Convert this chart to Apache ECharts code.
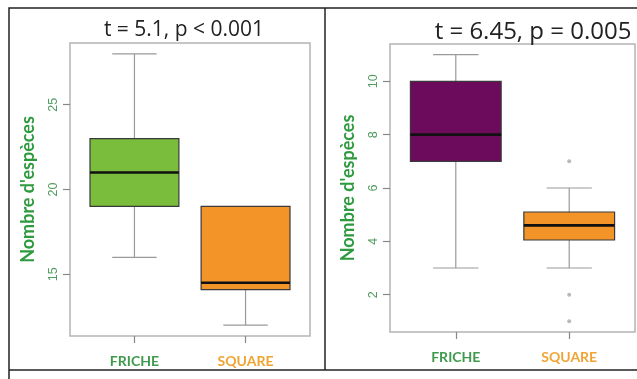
<!DOCTYPE html>
<html>
<head>
<meta charset="utf-8">
<script src="https://cdn.jsdelivr.net/npm/echarts@6/dist/echarts.min.js"></script>
<style>
html,body{margin:0;padding:0;background:#fff;}
#chart{width:637px;height:379px;}
</style>
</head>
<body>
<div id="chart"></div>
<script>
// ---- data ----
const categories = ['FRICHE', 'SQUARE'];
const categoryColors = ['#3f9a4c', '#f0a434'];
// [min, q1, median, q3, max]
const leftFriche = [16, 19, 21, 23, 28];
const leftSquare = [12, 14.1, 14.5, 19, 19];
const rightFriche = [3, 7, 8, 10, 11];
const rightSquare = [3, 4.05, 4.6, 5.1, 6];
const rightSquareOutliers = [7, 2, 1];
const leftTicks = [15, 20, 25];
const rightTicks = [2, 4, 6, 8, 10];
const leftTitle = 't = 5.1, p < 0.001';
const rightTitle = 't = 6.45, p = 0.005';
const yName = "Nombre d'espèces";
const leftBoxColors = ['#7abd3c', '#f39428'];
const rightBoxColors = ['#6c0b5c', '#f39428'];

const chart = echarts.init(document.getElementById('chart'), null, {renderer: 'canvas'});

function boxRender(colors) {
  return function (params, api) {
    const x = api.value(0);
    const mn = api.value(1), q1 = api.value(2), md = api.value(3), q3 = api.value(4), mx = api.value(5);
    const bw = api.size([0.8, 0])[0];
    const cw = bw / 2;
    const c = api.coord([x, md]);
    const pMin = api.coord([x, mn]), pQ1 = api.coord([x, q1]), pQ3 = api.coord([x, q3]), pMax = api.coord([x, mx]);
    const cx = c[0];
    const wStyle = {stroke: '#9a9a9a', lineWidth: 1.2};
    const children = [];
    if (mx > q3) {
      children.push({type: 'line', shape: {x1: cx, y1: pQ3[1], x2: cx, y2: pMax[1]}, style: wStyle});
      children.push({type: 'line', shape: {x1: cx - cw / 2, y1: pMax[1], x2: cx + cw / 2, y2: pMax[1]}, style: wStyle});
    }
    if (mn < q1) {
      children.push({type: 'line', shape: {x1: cx, y1: pQ1[1], x2: cx, y2: pMin[1]}, style: wStyle});
      children.push({type: 'line', shape: {x1: cx - cw / 2, y1: pMin[1], x2: cx + cw / 2, y2: pMin[1]}, style: wStyle});
    }
    children.push({type: 'rect', shape: {x: cx - bw / 2, y: pQ3[1], width: bw, height: pQ1[1] - pQ3[1]},
      style: {fill: colors[params.dataIndex], stroke: '#3a3a3a', lineWidth: 1.2}});
    children.push({type: 'line', shape: {x1: cx - bw / 2, y1: c[1], x2: cx + bw / 2, y2: c[1]},
      style: {stroke: '#111', lineWidth: 2.6}});
    return {type: 'group', children: children};
  };
}

function xAxisCfg(gi) {
  return {
    type: 'value', gridIndex: gi, min: 0.42, max: 2.58,
    axisLine: {show: false}, splitLine: {show: false},
    axisTick: {show: true, customValues: [1, 2], length: 7, lineStyle: {color: '#888', width: 1.2}},
    axisLabel: {
      customValues: [1, 2], margin: 18,
      formatter: function (v) { const i = Math.round(v) - 1; return '{c' + i + '|' + categories[i] + '}'; },
      rich: {
        c0: {color: categoryColors[0], fontWeight: 'bold', fontSize: 14, fontFamily: 'Lato'},
        c1: {color: categoryColors[1], fontWeight: 'bold', fontSize: 14, fontFamily: 'Lato'}
      }
    }
  };
}

function yAxisCfg(gi, min, max, ticks) {
  return {
    type: 'value', gridIndex: gi, min: min, max: max,
    name: yName, nameLocation: 'middle', nameGap: 33, nameRotate: 90,
    nameTextStyle: {color: '#2e9a3e', fontWeight: 'bold', fontSize: 18, fontFamily: 'Lato'},
    axisLine: {show: false}, splitLine: {show: false},
    axisTick: {show: true, customValues: ticks, length: 7, lineStyle: {color: '#888', width: 1.2}},
    axisLabel: {customValues: ticks, rotate: 90, margin: 10, color: '#4f9a5f', fontSize: 12.5, fontFamily: 'Liberation Sans'}
  };
}

const option = {
  animation: false,
  backgroundColor: '#fff',
  grid: [
    {left: 70, top: 43, width: 240, height: 293, show: true, borderColor: '#b4b4b4', borderWidth: 1.5, backgroundColor: 'transparent'},
    {left: 390, top: 44, width: 245, height: 288, show: true, borderColor: '#b4b4b4', borderWidth: 1.5, backgroundColor: 'transparent'}
  ],
  xAxis: [xAxisCfg(0), xAxisCfg(1)],
  yAxis: [yAxisCfg(0, 11.36, 28.64, leftTicks), yAxisCfg(1, 0.6, 11.4, rightTicks)],
  series: [
    {type: 'custom', xAxisIndex: 0, yAxisIndex: 0, renderItem: boxRender(leftBoxColors),
      data: [[1].concat(leftFriche), [2].concat(leftSquare)]},
    {type: 'custom', xAxisIndex: 1, yAxisIndex: 1, renderItem: boxRender(rightBoxColors),
      data: [[1].concat(rightFriche), [2].concat(rightSquare)]},
    {type: 'scatter', xAxisIndex: 1, yAxisIndex: 1, symbolSize: 4,
      itemStyle: {color: '#a8a8a8'},
      data: rightSquareOutliers.map(v => [2, v])}
  ],
  graphic: [
    {type: 'text', x: 184, y: 30, style: {text: leftTitle, fill: '#222', font: '21px "Open Sans"', align: 'center', verticalAlign: 'middle'}},
    {type: 'text', x: 533, y: 32, style: {text: rightTitle, fill: '#222', font: '24px "Open Sans"', align: 'center', verticalAlign: 'middle'}},
    {type: 'polyline', shape: {points: [[637, 8], [9, 8], [9, 379]]}, style: {stroke: '#222', lineWidth: 1.5, fill: null}},
    {type: 'line', shape: {x1: 325, y1: 8, x2: 325, y2: 370}, style: {stroke: '#222', lineWidth: 1.5}},
    {type: 'line', shape: {x1: 9, y1: 370, x2: 637, y2: 370}, style: {stroke: '#222', lineWidth: 1.5}}
  ]
};
chart.setOption(option);
</script>
</body>
</html>
